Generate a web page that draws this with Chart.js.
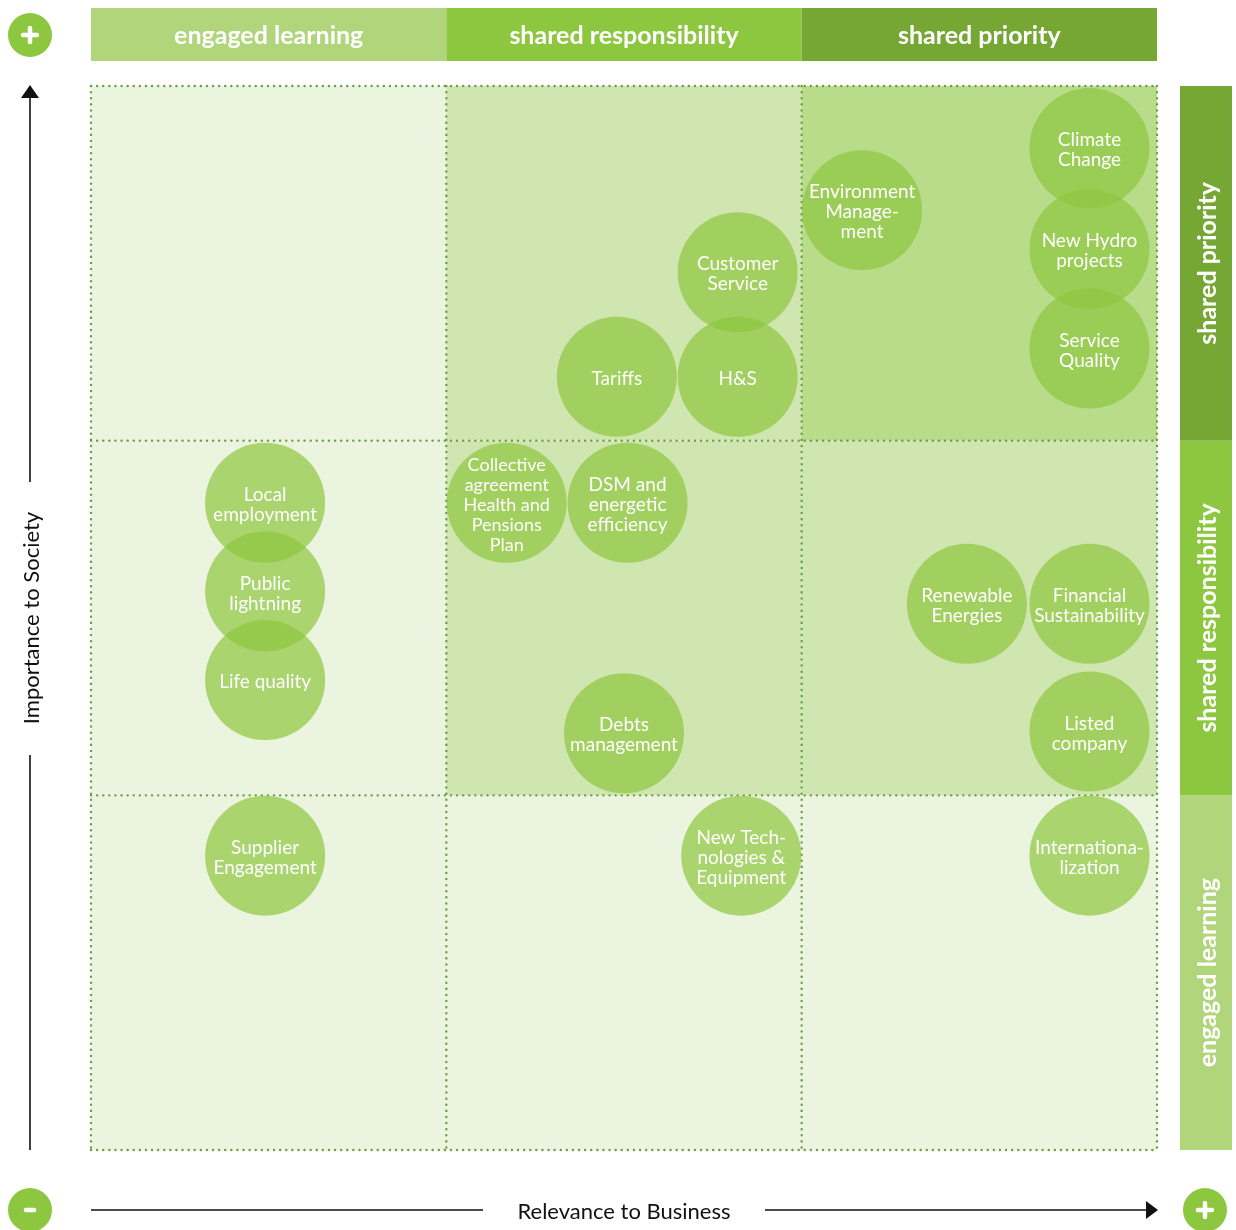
<!DOCTYPE html>
<html>
<head>
<meta charset="utf-8">
<script src="https://cdn.jsdelivr.net/npm/chart.js@4.4.1/dist/chart.umd.min.js"></script>
<style>
  html, body { margin: 0; padding: 0; background: #fff; }
  #wrap { width: 1236px; height: 1230px; position: relative; }
</style>
</head>
<body>
<div id="wrap"><canvas id="matrix"></canvas></div>
<script>
// Materiality matrix: relevance to business (x) vs importance to society (y)

const topics = [
  "Climate\nChange",
  "New Hydro\nprojects",
  "Service\nQuality",
  "Environment\nManage-\nment",
  "Customer\nService",
  "Tariffs",
  "H&S",
  "Local\nemployment",
  "Public\nlightning",
  "Life quality",
  "Collective\nagreement\nHealth and\nPensions\nPlan",
  "DSM and\nenergetic\nefficiency",
  "Renewable\nEnergies",
  "Financial\nSustainability",
  "Listed\ncompany",
  "Debts\nmanagement",
  "Supplier\nEngagement",
  "New Tech-\nnologies &\nEquipment",
  "Internationa-\nlization",
];
const relevance = [
  2.81, 2.81, 2.81, 2.17, 1.82, 1.48, 1.82, 0.49, 0.49, 0.49,
  1.17, 1.51, 2.465, 2.81, 2.81, 1.5, 0.49, 1.83, 2.81,
];
const importance = [
  2.825, 2.54, 2.26, 2.65, 2.475, 2.18, 2.18, 1.825, 1.575, 1.325,
  1.825, 1.825, 1.54, 1.54, 1.18, 1.175, 0.83, 0.83, 0.83,
];
const zoneNames = ["engaged learning", "shared responsibility", "shared priority"];
// zone of each cell, rows from bottom to top, columns left to right (0,1,2 = zoneNames)
const cellZones = [
  [0, 0, 0],
  [0, 1, 1],
  [0, 1, 2],
];

const zoneFill = ["#eaf4de", "#d0e6b0", "#b9dc8a"];
const bandFill = ["#b0d57a", "#8dc63f", "#76a734"];
const dotColor = "#6d9e46";

function dottedLine(ctx, x1, y1, x2, y2) {
  ctx.save();
  ctx.strokeStyle = dotColor;
  ctx.lineWidth = 2.4;
  ctx.lineCap = "round";
  ctx.setLineDash([0.1, 6]);
  ctx.beginPath();
  ctx.moveTo(x1, y1);
  ctx.lineTo(x2, y2);
  ctx.stroke();
  ctx.restore();
}

function signCircle(ctx, cx, cy, plus) {
  ctx.save();
  ctx.fillStyle = "#8dc63f";
  ctx.beginPath();
  ctx.arc(cx, cy, 22, 0, Math.PI * 2);
  ctx.fill();
  ctx.strokeStyle = "#fff";
  ctx.lineWidth = 4.5;
  ctx.lineCap = "round";
  ctx.beginPath();
  const w = plus ? 7 : 4;
  ctx.moveTo(cx - w, cy);
  ctx.lineTo(cx + w, cy);
  if (plus) {
    ctx.moveTo(cx, cy - 7);
    ctx.lineTo(cx, cy + 7);
  }
  ctx.stroke();
  ctx.restore();
}

const matrixPlugin = {
  id: "matrix",
  beforeDatasetsDraw(chart) {
    const { ctx, scales } = chart;
    const xs = scales.x, ys = scales.y;
    const ca = chart.chartArea;

    // cell backgrounds
    for (let r = 0; r < 3; r++) {
      for (let c = 0; c < 3; c++) {
        const x0 = xs.getPixelForValue(c), x1 = xs.getPixelForValue(c + 1);
        const y0 = ys.getPixelForValue(r + 1), y1 = ys.getPixelForValue(r);
        ctx.fillStyle = zoneFill[cellZones[r][c]];
        ctx.fillRect(x0, y0, x1 - x0, y1 - y0);
      }
    }

    // dotted grid
    for (let i = 0; i <= 3; i++) {
      const x = xs.getPixelForValue(i);
      dottedLine(ctx, x, ca.top, x, ca.bottom);
      const y = ys.getPixelForValue(i);
      dottedLine(ctx, ca.left, y, ca.right, y);
    }

    // top bands
    ctx.save();
    ctx.font = "bold 25px Lato";
    ctx.textAlign = "center";
    ctx.textBaseline = "middle";
    for (let c = 0; c < 3; c++) {
      const x0 = xs.getPixelForValue(c), x1 = xs.getPixelForValue(c + 1);
      ctx.fillStyle = bandFill[c];
      ctx.fillRect(x0, 8, x1 - x0, 53);
      ctx.fillStyle = "#fff";
      ctx.fillText(zoneNames[c], (x0 + x1) / 2, 36);
    }
    // right bands
    for (let r = 0; r < 3; r++) {
      const y0 = ys.getPixelForValue(r + 1), y1 = ys.getPixelForValue(r);
      ctx.fillStyle = bandFill[r];
      ctx.fillRect(1180, y0, 52, y1 - y0);
      ctx.save();
      ctx.translate(1208, (y0 + y1) / 2);
      ctx.rotate(-Math.PI / 2);
      ctx.fillStyle = "#fff";
      ctx.fillText(zoneNames[r], 0, 0);
      ctx.restore();
    }
    ctx.restore();

    // axes with arrows
    ctx.save();
    ctx.strokeStyle = "#111";
    ctx.fillStyle = "#111";
    ctx.lineWidth = 1.6;
    ctx.beginPath();
    ctx.moveTo(30, 95);
    ctx.lineTo(30, 482);
    ctx.moveTo(30, 755);
    ctx.lineTo(30, 1150);
    ctx.moveTo(91, 1210);
    ctx.lineTo(483, 1210);
    ctx.moveTo(765, 1210);
    ctx.lineTo(1148, 1210);
    ctx.stroke();
    ctx.beginPath();
    ctx.moveTo(30, 85);
    ctx.lineTo(39, 98);
    ctx.lineTo(21, 98);
    ctx.closePath();
    ctx.fill();
    ctx.beginPath();
    ctx.moveTo(1158, 1210);
    ctx.lineTo(1146, 1201);
    ctx.lineTo(1146, 1219);
    ctx.closePath();
    ctx.fill();

    ctx.font = "22px Lato";
    ctx.textAlign = "center";
    ctx.textBaseline = "middle";
    ctx.fillText("Relevance to Business", 624, 1212);
    ctx.save();
    ctx.translate(32, 618);
    ctx.rotate(-Math.PI / 2);
    ctx.fillText("Importance to Society", 0, 0);
    ctx.restore();
    ctx.restore();

    signCircle(ctx, 30, 35, true);
    signCircle(ctx, 30, 1210, false);
    signCircle(ctx, 1205, 1210, true);
  },
  afterDatasetsDraw(chart) {
    const { ctx } = chart;
    const meta = chart.getDatasetMeta(0);
    ctx.save();
    ctx.fillStyle = "#fff";
    ctx.textAlign = "center";
    ctx.textBaseline = "middle";
    meta.data.forEach((pt, i) => {
      const lines = topics[i].split("\n");
      ctx.font = (lines.length > 4 ? "18px" : "19px") + " Lato";
      const lh = 20;
      const start = pt.y + 2 - ((lines.length - 1) * lh) / 2;
      lines.forEach((ln, j) => ctx.fillText(ln, pt.x, start + j * lh));
    });
    ctx.restore();
  },
};

new Chart(document.getElementById("matrix").getContext("2d"), {
  type: "bubble",
  data: {
    datasets: [
      {
        label: "Topics",
        data: topics.map((t, i) => ({ x: relevance[i], y: importance[i], r: 60 })),
        backgroundColor: "rgba(141, 198, 63, 0.7)",
        borderWidth: 0,
        hoverRadius: 0,
        clip: false,
      },
    ],
  },
  options: {
    responsive: true,
    maintainAspectRatio: false,
    animation: false,
    layout: { padding: { left: 91, top: 86, right: 79, bottom: 80 } },
    scales: {
      x: { min: 0, max: 3, display: false },
      y: { min: 0, max: 3, display: false },
    },
    plugins: {
      legend: { display: false },
      tooltip: { enabled: false },
    },
  },
  plugins: [matrixPlugin],
});
</script>
</body>
</html>
